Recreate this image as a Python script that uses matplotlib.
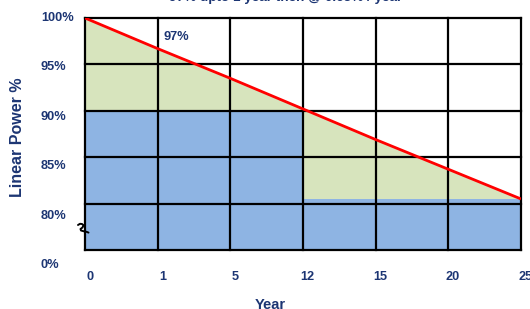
import matplotlib
matplotlib.use("Agg")
import matplotlib.pyplot as plt
import matplotlib.transforms as mtransforms
import numpy as np

# ---- data ----
year_labels = ["0", "1", "5", "12", "15", "20", "25"]
y_labels = ["100%", "95%", "90%", "85%", "80%", "0%"]
linear_power = [100, 96.7, 93.5, 90.2, 86.9, 83.7, 80.5]   # red line at each year tick
blue_values = [90.1, 90.1, 90.1, 80.5, 80.5, 80.5]         # blue block per interval
title_text = "97% upto 1 year then @ 0.65% / year"
note_text = "97%"

NAVY = "#1c3573"
BLUE = "#8eb4e3"
GREEN = "#d7e4bd"
RED = "#ff0000"

plt.rcParams['font.family'] = ['Liberation Sans', 'DejaVu Sans']


def pos(p):
    """broken axis: 0% at 0, 80..100% mapped to 1..5"""
    p = np.asarray(p, dtype=float)
    return np.where(p <= 0, 0.0, 1 + (p - 80) / 5.0)


fig = plt.figure(figsize=(5.30, 3.09), dpi=100)
ax = fig.add_axes([85 / 530, 1 - 250 / 309, 436 / 530, 232 / 309])
ax.set_xlim(0, 6)
ax.set_ylim(0, 5)

x = np.arange(len(year_labels))
# green area under the red line
ax.fill_between(x, 0, pos(linear_power), color=GREEN, zorder=1, linewidth=0)
# blue blocks
ax.bar(np.arange(len(blue_values)), pos(blue_values), width=1.0, align="edge",
       color=BLUE, zorder=2, linewidth=0)
# grid
for xi in range(0, 7):
    ax.axvline(xi, color="black", lw=1.6, zorder=3, clip_on=False)
for yi in range(0, 6):
    ax.axhline(yi, color="black", lw=1.6, zorder=3, clip_on=False)
# red line
ax.plot(x, pos(linear_power), color=RED, lw=2.0, zorder=4, solid_capstyle="butt")

for s in ax.spines.values():
    s.set_visible(False)
ax.set_xticks([])
ax.set_yticks([])

# y tick labels (slightly drifting spacing as in the reference)
ytr = mtransforms.blended_transform_factory(ax.transAxes, ax.transData)
for k, lab in enumerate(y_labels):
    ax.text(-0.101, 5 - k * 1.065, lab, transform=ytr, ha="left", va="center",
            fontsize=9.2, fontweight="bold", color=NAVY, clip_on=False)

# x tick labels
xtr = mtransforms.blended_transform_factory(ax.transData, ax.transAxes)
for i, lab in enumerate(year_labels):
    ax.text(i + 0.065, -0.116, lab, transform=xtr, ha="center", va="center",
            fontsize=9.2, fontweight="bold", color=NAVY, clip_on=False)

ax.text(0.424, -0.235, "Year", transform=ax.transAxes, ha="center", va="center",
        fontsize=10.5, fontweight="bold", color=NAVY, clip_on=False)
ax.text(-0.155, 0.487, "Linear Power %", transform=ax.transAxes, ha="center",
        va="center", rotation=90, fontsize=11.5, fontweight="bold", color=NAVY,
        clip_on=False)
ax.text(0.461, 1.086, title_text, transform=ax.transAxes, ha="center", va="center",
        fontsize=9.7, fontweight="bold", color=NAVY, clip_on=False)
ax.text(1.252, pos(97.9), note_text, ha="center", va="center",
        fontsize=9.2, fontweight="bold", color=NAVY, zorder=5)

# axis-break squiggle on the left edge (pixel offsets from the edge, y down)
sq_px = np.array([(-7, -4), (-5, -5.2), (-3, -5), (-1.5, -3.8), (-2.5, -1.5),
                  (-4.5, 0), (-4, 1.5), (-1.5, 2.2), (1.5, 2.8), (3.5, 3.6)],
                 dtype=float)
sx = sq_px[:, 0] / 436.0
sy = (250 - 229) / 232.0 - sq_px[:, 1] / 232.0
ax.plot(sx, sy, color="black", lw=1.4, transform=ax.transAxes, clip_on=False,
        zorder=6, solid_joinstyle="round", solid_capstyle="round")

fig.savefig("out.png", dpi=100)
